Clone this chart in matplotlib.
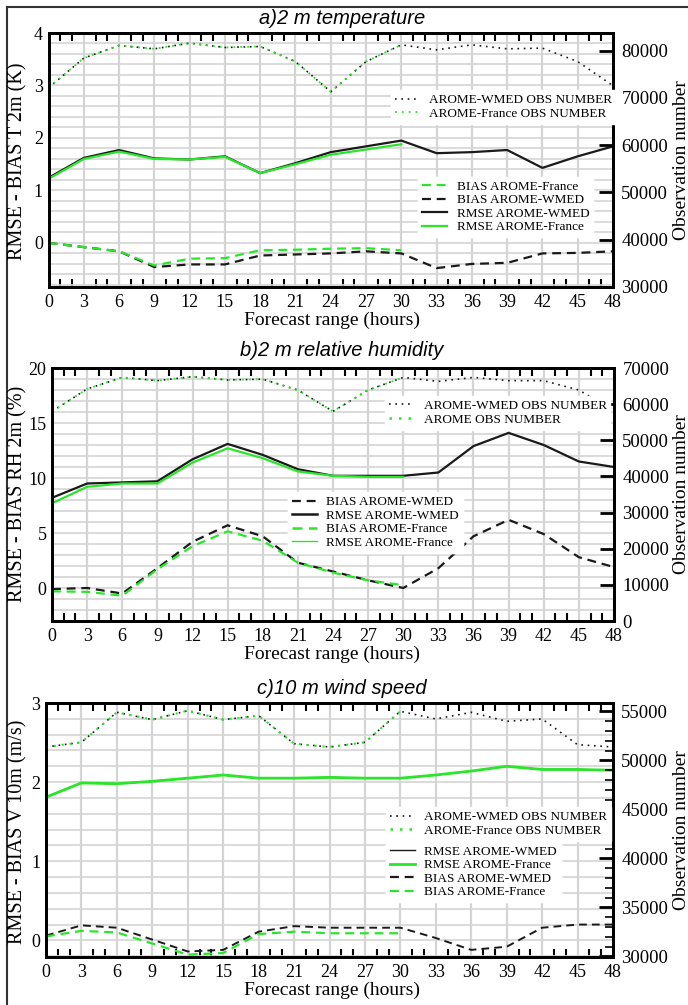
import matplotlib
matplotlib.use("Agg")
import matplotlib.pyplot as plt
from matplotlib.lines import Line2D
from matplotlib.ticker import MultipleLocator

# ---------------------------------------------------------------- data
hours = [0, 3, 6, 9, 12, 15, 18, 21, 24, 27, 30, 33, 36, 39, 42, 45, 48]
hours_fr = [0, 3, 6, 9, 12, 15, 18, 21, 24, 27, 30]

# a) 2 m temperature
t2m_rmse_wmed = [1.24, 1.62, 1.77, 1.61, 1.59, 1.65, 1.33, 1.52, 1.73, 1.84, 1.95,
                 1.71, 1.73, 1.77, 1.43, 1.65, 1.84]
t2m_rmse_fr = [1.22, 1.60, 1.74, 1.60, 1.59, 1.64, 1.33, 1.50, 1.68, 1.78, 1.88]
t2m_bias_wmed = [0.0, -0.08, -0.16, -0.46, -0.41, -0.41, -0.24, -0.22, -0.20, -0.16, -0.20,
                 -0.48, -0.40, -0.38, -0.20, -0.19, -0.16]
t2m_bias_fr = [0.0, -0.08, -0.16, -0.43, -0.30, -0.29, -0.14, -0.13, -0.11, -0.10, -0.14]
t2m_obs_wmed = [72100, 78400, 81060, 80350, 81560, 80640, 80850, 77660, 71280, 77660, 81200,
                80140, 81200, 80350, 80500, 77660, 72550]
t2m_obs_fr = [72100, 78400, 81060, 80350, 81560, 80640, 80850, 77660, 71280, 77660, 81200]

# b) 2 m relative humidity
rh_rmse_wmed = [8.2, 9.5, 9.6, 9.7, 11.7, 13.1, 12.1, 10.8, 10.2, 10.2, 10.2,
                10.5, 12.9, 14.1, 13.0, 11.5, 11.0]
rh_rmse_fr = [7.7, 9.2, 9.5, 9.5, 11.4, 12.7, 11.8, 10.6, 10.2, 10.1, 10.1]
rh_bias_wmed = [-0.1, 0.0, -0.5, 1.8, 4.2, 5.7, 4.7, 2.3, 1.5, 0.7, 0.0,
                1.8, 4.7, 6.2, 4.9, 2.8, 1.9]
rh_bias_fr = [-0.3, -0.35, -0.7, 1.7, 3.8, 5.15, 4.3, 2.3, 1.4, 0.7, 0.25]
rh_obs_wmed = [58000, 64200, 67400, 66500, 67600, 66700, 66900, 63900, 58000, 63900, 67400,
               66300, 67400, 66500, 66500, 63900, 58100]
rh_obs_fr = [58000, 64200, 67400, 66500, 67600, 66700, 66900, 63900, 58000, 63900, 67400]

# c) 10 m wind speed
ws_rmse_wmed = [1.81, 1.99, 1.98, 2.01, 2.05, 2.09, 2.05, 2.05, 2.06, 2.05, 2.05,
                2.09, 2.14, 2.20, 2.16, 2.16, 2.15]
ws_rmse_fr = [1.81, 1.99, 1.98, 2.01, 2.05, 2.09, 2.05, 2.05, 2.06, 2.05, 2.05,
              2.09, 2.14, 2.20, 2.16, 2.16, 2.15]
ws_bias_wmed = [0.06, 0.19, 0.16, 0.01, -0.14, -0.12, 0.11, 0.18, 0.16, 0.16, 0.16,
                0.03, -0.12, -0.08, 0.16, 0.20, 0.20]
ws_bias_fr = [0.05, 0.12, 0.10, -0.04, -0.18, -0.16, 0.08, 0.11, 0.09, 0.09, 0.09]
ws_obs_wmed = [51360, 51840, 54900, 54150, 55070, 54150, 54560, 51700, 51360, 51840, 55000,
               54220, 54900, 53980, 54220, 51600, 51360]
ws_obs_fr = [51360, 51840, 54900, 54150, 55070, 54150, 54560, 51700, 51360, 51840, 55000]

# ---------------------------------------------------------------- style
W, H = 688, 1005
SERIF = ["Liberation Serif", "DejaVu Serif"]
SANS = ["Liberation Sans", "DejaVu Sans"]
BLACK = "#1a1a1a"
GREEN = "#2ae62a"
DASH = (0, (4, 2.6))
DOT = (0, (1.0, 2.8))

plt.rcParams["font.family"] = SERIF

fig = plt.figure(figsize=(W / 100, H / 100), dpi=100)


def px_axes(left, top, right, bottom):
    return fig.add_axes([left / W, 1 - bottom / H, (right - left) / W, (bottom - top) / H])


def style_axes(ax, ax2, ylim, ystep, ymajor, ylim2, ymajor2, yminor2=None):
    ax.set_xlim(0, 48)
    ax.set_ylim(*ylim)
    ax.xaxis.set_major_locator(MultipleLocator(3))
    ax.xaxis.set_minor_locator(MultipleLocator(1))
    ax.yaxis.set_major_locator(MultipleLocator(ymajor))
    ax.yaxis.set_minor_locator(MultipleLocator(ystep))
    ax.grid(axis="x", which="major", color="#d4d4d4", lw=1.6, zorder=0)
    ax.grid(axis="y", which="both", color="#d4d4d4", lw=1.2, zorder=0)
    ax.set_axisbelow(True)
    ax.tick_params(axis="x", which="major", length=0, labelsize=13, pad=5, top=True)
    ax.tick_params(axis="x", which="minor", direction="in", length=6, width=1.5,
                   top=True, bottom=True, color="black")
    ax.tick_params(axis="y", which="both", length=0, labelsize=13, pad=4)
    for sp in ax.spines.values():
        sp.set_linewidth(2)
    ax2.set_ylim(*ylim2)
    ax2.yaxis.set_major_locator(MultipleLocator(ymajor2))
    if yminor2:
        ax2.yaxis.set_minor_locator(MultipleLocator(yminor2))
        ax2.tick_params(axis="y", which="minor", direction="in", length=6, width=1.2)
    ax2.tick_params(axis="y", which="major", direction="in", length=10, width=2,
                    labelsize=13.5, pad=6)
    for sp in ax2.spines.values():
        sp.set_linewidth(2)


def legend(ax, items, anchor):
    handles = [Line2D([], [], color=c, ls=ls, lw=lw) for _, c, ls, lw in items]
    labels = [lab for lab, _, _, _ in items]
    lg = ax.legend(handles, labels, loc="upper left", bbox_to_anchor=anchor,
                   fontsize=9.5, frameon=True, fancybox=False, framealpha=1,
                   edgecolor="white", handlelength=1.9, handletextpad=0.7,
                   labelspacing=0.1, borderpad=0.3, borderaxespad=0)
    ax.add_artist(lg)
    return lg


# ---------------------------------------------------------------- a) temperature
ax = px_axes(48.5, 33, 613, 287)
ax2 = ax.twinx()
ax.plot(hours, t2m_rmse_wmed, color=BLACK, lw=1.6, zorder=3)
ax.plot(hours_fr, t2m_rmse_fr, color=GREEN, lw=1.6, zorder=4)
ax.plot(hours, t2m_bias_wmed, color=BLACK, lw=1.6, ls=DASH, zorder=3)
ax.plot(hours_fr, t2m_bias_fr, color=GREEN, lw=1.6, ls=DASH, zorder=4)
ax2.plot(hours, t2m_obs_wmed, color=BLACK, lw=1.2, ls=DOT)
ax2.plot(hours_fr, t2m_obs_fr, color=GREEN, lw=1.3, ls=DOT)
style_axes(ax, ax2, (-0.84, 4), 0.2, 1, (30000, 83700), 10000)
legend(ax2, [("AROME-WMED OBS NUMBER", BLACK, DOT, 1.2),
             ("AROME-France OBS NUMBER", GREEN, DOT, 1.3)], (0.607, 0.775))
legend(ax2, [("BIAS AROME-France", GREEN, DASH, 1.6),
             ("BIAS AROME-WMED", BLACK, DASH, 1.6),
             ("RMSE AROME-WMED", BLACK, "-", 1.6),
             ("RMSE AROME-France", GREEN, "-", 1.6)], (0.655, 0.435))

# ---------------------------------------------------------------- b) humidity
ax = px_axes(52, 368, 614, 621)
ax2 = ax.twinx()
ax.plot(hours, rh_rmse_wmed, color=BLACK, lw=1.6, zorder=3)
ax.plot(hours_fr, rh_rmse_fr, color=GREEN, lw=1.6, zorder=4)
ax.plot(hours, rh_bias_wmed, color=BLACK, lw=1.6, ls=DASH, zorder=3)
ax.plot(hours_fr, rh_bias_fr, color=GREEN, lw=1.6, ls=DASH, zorder=4)
ax2.plot(hours, rh_obs_wmed, color=BLACK, lw=1.2, ls=DOT)
ax2.plot(hours_fr, rh_obs_fr, color=GREEN, lw=1.3, ls=DOT)
style_axes(ax, ax2, (-3, 20), 1, 5, (0, 70000), 10000)
legend(ax2, [("AROME-WMED OBS NUMBER", BLACK, DOT, 1.2),
             ("AROME OBS NUMBER", GREEN, DOT, 1.8)], (0.593, 0.89))
legend(ax2, [("BIAS AROME-WMED", BLACK, DASH, 1.6),
             ("RMSE AROME-WMED", BLACK, "-", 1.8),
             ("BIAS AROME-France", GREEN, DASH, 1.8),
             ("RMSE AROME-France", GREEN, "-", 1.0)], (0.42, 0.51))

# ---------------------------------------------------------------- c) wind speed
ax = px_axes(46, 703, 613, 957)
ax2 = ax.twinx()
ax.plot(hours, ws_rmse_wmed, color=BLACK, lw=1.0, zorder=3)
ax.plot(hours, ws_rmse_fr, color=GREEN, lw=2.0, zorder=4)
ax.plot(hours, ws_bias_wmed, color=BLACK, lw=1.4, ls=DASH, zorder=3)
ax.plot(hours_fr, ws_bias_fr, color=GREEN, lw=1.6, ls=DASH, zorder=4)
ax2.plot(hours, ws_obs_wmed, color=BLACK, lw=1.2, ls=DOT)
ax2.plot(hours_fr, ws_obs_fr, color=GREEN, lw=1.5, ls=DOT)
style_axes(ax, ax2, (-0.21, 3), 0.2, 1, (29930, 55850), 5000, 1000)
legend(ax2, [("AROME-WMED OBS NUMBER", BLACK, DOT, 1.2),
             ("AROME-France OBS NUMBER", GREEN, DOT, 1.8)], (0.60, 0.59))
legend(ax2, [("RMSE AROME-WMED", BLACK, "-", 1.0),
             ("RMSE AROME-France", GREEN, "-", 2.0),
             ("BIAS AROME-WMED", BLACK, DASH, 1.6),
             ("BIAS AROME-France", GREEN, DASH, 1.6)], (0.60, 0.455))

# ---------------------------------------------------------------- texts
titles = [("a)2 m temperature", 19), ("b)2 m relative humidity", 351),
          ("c)10 m wind speed", 688)]
for txt, y in titles:
    fig.text(342 / W, 1 - y / H, txt, family=SANS, style="italic", fontsize=14.5,
             ha="center", va="center")

xlabels_y = [320, 654, 990]
for y in xlabels_y:
    fig.text(332 / W, 1 - y / H, "Forecast range (hours)", fontsize=14,
             ha="center", va="center")

ylabels = [("RMSE - BIAS T 2m (K)", 161), ("RMSE - BIAS RH 2m (%)", 494),
           ("RMSE - BIAS V 10m (m/s)", 832)]
for txt, y in ylabels:
    fig.text(18 / W, 1 - y / H, txt, fontsize=14.5, rotation=90,
             ha="center", va="center")

for y in [160, 494, 830]:
    fig.text(681 / W, 1 - y / H, "Observation number", fontsize=14, rotation=90,
             ha="center", va="center")

# frame lines of the original page
fig.add_artist(Line2D([7 / W, 1], [1 - 7 / H, 1 - 7 / H], color="#333333", lw=1.5,
                      transform=fig.transFigure))
fig.add_artist(Line2D([7 / W, 7 / W], [0, 1 - 7 / H], color="#333333", lw=1.5,
                      transform=fig.transFigure))

fig.savefig("out.png", dpi=100)
